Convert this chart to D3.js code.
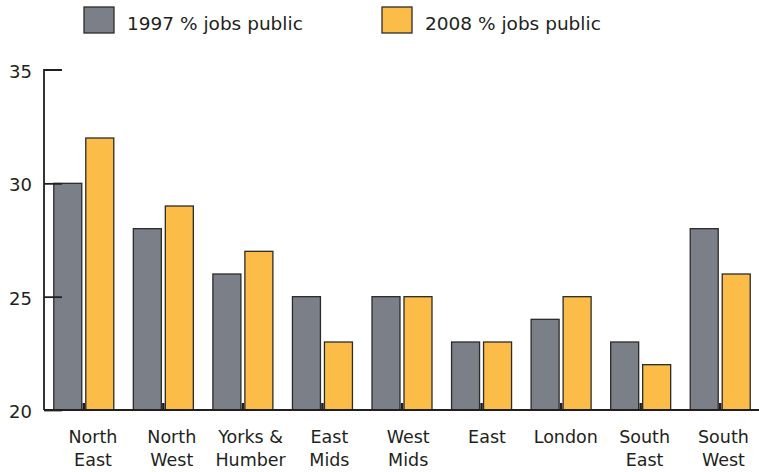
<!DOCTYPE html>
<html>
<head>
<meta charset="utf-8">
<script src="https://cdn.jsdelivr.net/npm/d3@7/dist/d3.min.js"></script>
<style>
  html, body { margin: 0; padding: 0; background: #fff; }
  svg { display: block; }
  text { font-family: "DejaVu Sans", sans-serif; fill: #231f20; }
</style>
</head>
<body>
<svg id="chart" width="759" height="472"></svg>
<script>
// Regions (two-line labels)
const regions = [
  ["North", "East"], ["North", "West"], ["Yorks &", "Humber"], ["East", "Mids"],
  ["West", "Mids"], ["East"], ["London"], ["South", "East"], ["South", "West"]
];
// Share of jobs in the public sector, %
const jobs1997 = [30, 28, 26, 25, 25, 23, 24, 23, 28];
const jobs2008 = [32, 29, 27, 23, 25, 23, 25, 22, 26];
const seriesNames = ["1997 % jobs public", "2008 % jobs public"];
const seriesColors = ["#7b7f87", "#fbbd48"];
const yTicks = [20, 25, 30, 35];

const svg = d3.select("#chart");
const plotLeft = 44, plotRight = 760, plotTop = 70, plotBottom = 410;

const x = d3.scaleBand()
  .domain(d3.range(regions.length))
  .range([plotLeft, plotRight])
  .padding(0);

// Category labels sit on their own, slightly tighter, grid
const xLabel = d3.scalePoint()
  .domain(d3.range(regions.length))
  .range([93, 723.4]);

const y = d3.scaleLinear()
  .domain([20, 35])
  .range([plotBottom, plotTop]);

const barW = 28, inner = 2;
const series = [jobs1997, jobs2008];

// Bars
series.forEach((vals, s) => {
  svg.append("g").selectAll("rect")
    .data(vals)
    .join("rect")
    .attr("x", (d, i) => x(i) + x.bandwidth() / 2 + (s === 0 ? -(barW + inner) : inner))
    .attr("y", d => y(d))
    .attr("width", barW)
    .attr("height", d => y(20) - y(d))
    .attr("fill", seriesColors[s])
    .attr("stroke", "#2b2b2b")
    .attr("stroke-width", 1.3);
});

// Small category ticks on the baseline
svg.append("g").selectAll("line")
  .data(regions)
  .join("line")
  .attr("x1", (d, i) => x(i) + x.bandwidth() / 2)
  .attr("x2", (d, i) => x(i) + x.bandwidth() / 2)
  .attr("y1", plotBottom)
  .attr("y2", plotBottom - 7)
  .attr("stroke", "#231f20")
  .attr("stroke-width", 2.5);

// Baseline
svg.append("line")
  .attr("x1", plotLeft).attr("x2", 759)
  .attr("y1", y(20)).attr("y2", y(20))
  .attr("stroke", "#231f20").attr("stroke-width", 1.8);

// Y axis
const yAxis = d3.axisRight(y)
  .tickValues(yTicks)
  .tickSize(18)
  .tickFormat("");
const gy = svg.append("g")
  .attr("transform", `translate(${plotLeft},0)`)
  .call(yAxis);
gy.select(".domain").attr("stroke", "#231f20").attr("stroke-width", 1.8)
  .attr("d", `M18,${plotTop}H0V${plotBottom}`);
gy.selectAll(".tick line").attr("stroke", "#231f20").attr("stroke-width", 1.8);
gy.selectAll(".tick").filter(d => d === 35).select("line").remove();

svg.append("g").selectAll("text")
  .data(yTicks)
  .join("text")
  .attr("x", 32)
  .attr("y", d => y(d) + 8)
  .attr("text-anchor", "end")
  .attr("font-size", 18)
  .text(d => d);

// Category labels
const labels = svg.append("g").selectAll("text")
  .data(regions)
  .join("text")
  .attr("text-anchor", "middle")
  .attr("font-size", 17.5);
labels.each(function(d, i) {
  const t = d3.select(this);
  d.forEach((line, k) => {
    t.append("tspan")
      .attr("x", xLabel(i))
      .attr("y", 443 + k * 23)
      .text(line);
  });
});

// Legend
const legendX = [84, 382];
seriesNames.forEach((name, s) => {
  const g = svg.append("g").attr("transform", `translate(${legendX[s]},7)`);
  g.append("rect")
    .attr("width", 30).attr("height", 26)
    .attr("fill", seriesColors[s])
    .attr("stroke", "#2b2b2b").attr("stroke-width", 1.3);
  g.append("text")
    .attr("x", 43).attr("y", 23)
    .attr("font-size", 18.5)
    .text(name);
});
</script>
</body>
</html>
